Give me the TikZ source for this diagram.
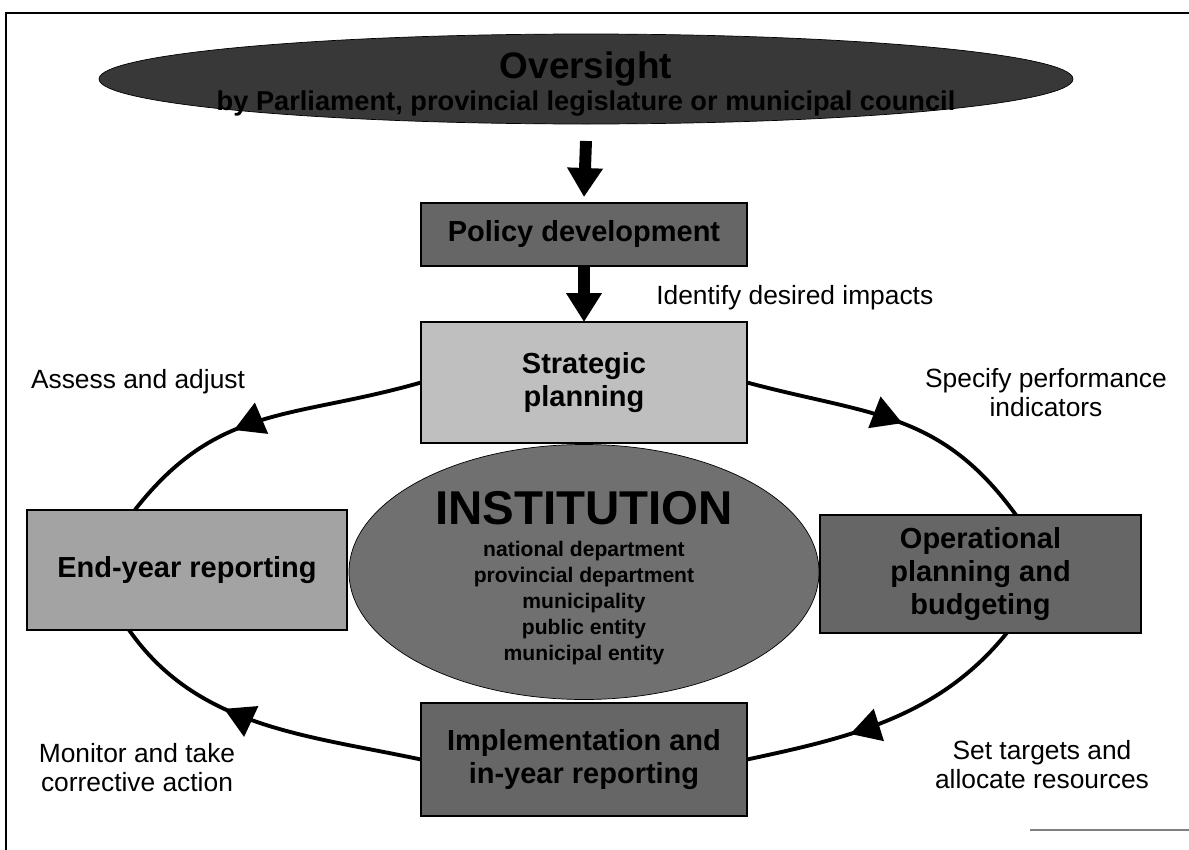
\documentclass[tikz,border=0pt]{standalone}
\usepackage{fontspec}
\setmainfont{Liberation Sans}
\usetikzlibrary{shapes.geometric, arrows.meta, decorations.markings}
\definecolor{oversightgray}{gray}{0.22}
\definecolor{darkbox}{gray}{0.40}
\definecolor{midbox}{gray}{0.64}
\definecolor{lightbox}{gray}{0.75}
\definecolor{institutiongray}{gray}{0.44}
\tikzstyle{stage}=[draw, line width=1.2pt, inner sep=0, outer sep=0, align=center,
                   font=\fontsize{16.5}{19}\selectfont\bfseries]
\tikzstyle{darkstage}=[stage, fill=darkbox]
\tikzstyle{blob}=[draw, ellipse, inner sep=0, outer sep=0]
\tikzstyle{note}=[inner sep=0, align=center, font=\fontsize{15}{16.5}\selectfont]
\tikzstyle{downarrow}=[line width=6.8pt, -{Triangle[width=0.68cm, length=0.58cm]}]
\tikzstyle{cycleline}=[line width=2.2pt, looseness=1.1]
\tikzset{cyclearrow/.style={cycleline, postaction={decorate},
                            % One big arrowhead part-way along each arc.
                            decoration={markings, mark=at position #1 with {\arrow{Triangle[width=0.66cm, length=0.6cm]}}}}}

\begin{document}
\begin{tikzpicture}
        \useasboundingbox (0, 0) rectangle (23.78, -17);
        \draw[line width=1.5pt] (0.12, -17) -- (0.12, -0.26) -- (23.78, -0.26);
        \draw[gray, line width=0.8pt] (20.6, -16.6) -- (23.78, -16.6);
        \node[blob, fill=oversightgray, minimum width=19.48cm, minimum height=1.8cm,
              label={[align=center, yshift=-0.1cm, font=\fontsize{15.5}{18}\selectfont\bfseries]center:{\fontsize{21}{23}\selectfont Oversight}\\by Parliament, provincial legislature or municipal council}] (oversight) at (11.72, -1.58) {};
        \node[darkstage, minimum width=6.52cm, minimum height=1.26cm] (policy) at (11.68, -4.69) {Policy development};
        \node[stage, fill=lightbox, minimum width=6.52cm, minimum height=2.42cm] (strategic) at (11.68, -7.65) {Strategic\\planning};
        \node[stage, fill=midbox, minimum width=6.4cm, minimum height=2.4cm] (endyear) at (3.74, -11.4) {End-year reporting};
        \node[blob, fill=institutiongray, minimum width=9.4cm, minimum height=5.1cm,
              label={[align=center, yshift=-0.12cm, font=\fontsize{12}{14.8}\selectfont\bfseries]center:{\fontsize{27}{28}\selectfont INSTITUTION}\\[3pt]national department\\provincial department\\municipality\\public entity\\municipal entity}] (institution) at (11.68, -11.44) {};
        \node[darkstage, minimum width=6.42cm, minimum height=2.36cm] (operational) at (19.61, -11.48) {Operational\\planning and\\budgeting};
        \node[darkstage, minimum width=6.52cm, minimum height=2.26cm] (implementation) at (11.68, -15.19) {Implementation and\\in-year reporting};
        \node[note, anchor=west] (impacts) at (13.12, -5.96) {Identify desired impacts};
        \node[note] (assess) at (2.76, -7.64) {Assess and adjust};
        \node[note] (specify) at (20.92, -7.85) {Specify performance\\indicators};
        \node[note] (monitor) at (2.74, -15.36) {Monitor and take\\corrective action};
        \node[note] (targets) at (20.84, -15.29) {Set targets and\\allocate resources};
        \draw[downarrow] ([yshift=-0.34cm]oversight.south) -- ([yshift=0.12cm]policy.north);
        \draw[downarrow] (policy.south) -- (strategic.north);
        \draw[cyclearrow=0.6] (strategic.west) to[out=196, in=52] (endyear.131);
        \draw[cyclearrow=0.52] (strategic.east) to[out=-15, in=126] (operational.59);
        \draw[cyclearrow=0.64, looseness=0.95] (operational.-66) to[out=231, in=12] (implementation.east);
        \draw[cyclearrow=0.62, looseness=0.95] (implementation.west) to[out=168, in=-55] (endyear.-134);
    \end{tikzpicture}
\end{document}
